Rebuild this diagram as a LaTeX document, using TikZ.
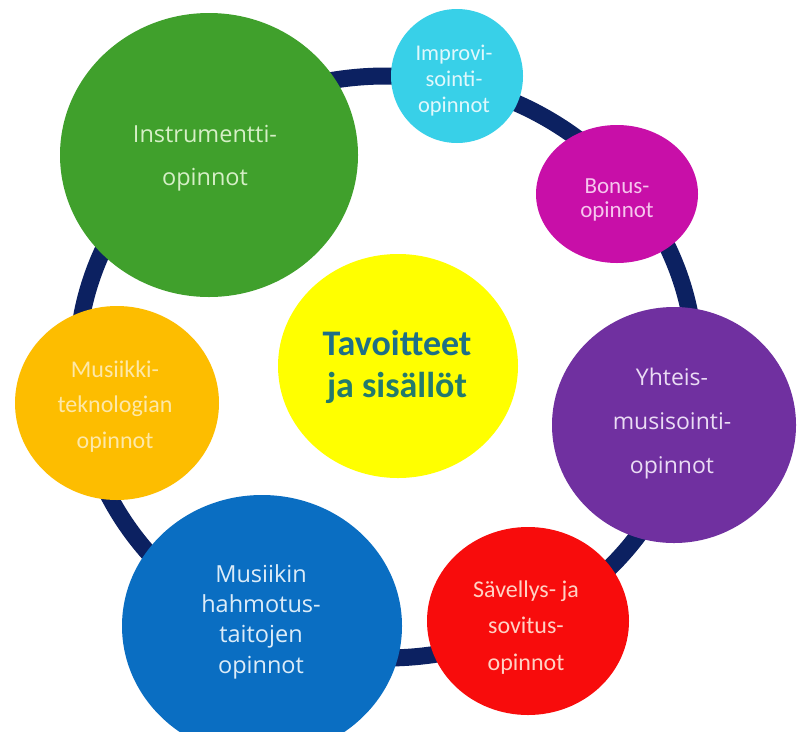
\documentclass[tikz,border=0pt]{standalone}
\usepackage{fontspec}
\usetikzlibrary{shapes.geometric}
\newfontfamily\calib{Carlito}
\newfontfamily\opens{Open Sans}
\definecolor{ringc}{HTML}{0C2161}
\definecolor{cgreen}{HTML}{40A02C}
\definecolor{ccyan}{HTML}{38D0E8}
\definecolor{cmag}{HTML}{C80FA8}
\definecolor{cpurp}{HTML}{7030A0}
\definecolor{cred}{HTML}{F80C0C}
\definecolor{cblue}{HTML}{0A6EC2}
\definecolor{corange}{HTML}{FDBD00}
\definecolor{cyell}{HTML}{FFFF00}
\definecolor{tgreen}{HTML}{D5EFC6}
\definecolor{tcyan}{HTML}{E0F8FC}
\definecolor{tmag}{HTML}{F6C6EE}
\definecolor{tpurp}{HTML}{EADCF4}
\definecolor{tred}{HTML}{FFD2C4}
\definecolor{tblue}{HTML}{DCECF8}
\definecolor{torange}{HTML}{FDE8A8}
\definecolor{tcenter}{HTML}{1E6F87}
\definecolor{tcenterb}{HTML}{237A6C}
\tikzset{
  blob/.style={ellipse, inner sep=0pt, outer sep=0pt},
  lbl/.style={anchor=base, align=center, inner sep=0pt}
}
\begin{document}
\begin{tikzpicture}[x=1pt,y=-1pt]
\useasboundingbox (0,0) rectangle (799,731);
\clip (0,0) rectangle (799,731);
\fill[white] (0,0) rectangle (799,731);
% ring
\node[blob, draw=ringc, line width=17pt, minimum width=618pt, minimum height=582pt] (ring) at (386,367) {};
% circles
\node[blob, fill=cgreen, minimum width=298pt, minimum height=284pt] (instr) at (209,155) {};
\node[blob, fill=ccyan, minimum width=132pt, minimum height=134pt] (impro) at (457,76) {};
\node[blob, fill=cmag, minimum width=162pt, minimum height=138pt] (bonus) at (617,194) {};
\node[blob, fill=cpurp, minimum width=244pt, minimum height=236pt] (yht) at (674,425) {};
\node[blob, fill=cred, minimum width=202pt, minimum height=188pt] (sav) at (528,621) {};
\node[blob, fill=cblue, minimum width=280pt, minimum height=262pt] (hahm) at (262,626) {};
\node[blob, fill=corange, minimum width=204pt, minimum height=194pt] (tekn) at (117,403) {};
\node[blob, fill=cyell, minimum width=240pt, minimum height=224pt] (tav) at (398,366) {};
% texts (base anchor = baseline of the last line)
\node[lbl, text=tgreen, font=\opens\fontsize{23.5}{43}\selectfont] (tinstr) at (205,185) {Instrumentti-\\opinnot};
\node[lbl, text=tcyan, font=\calib\fontsize{22.5}{26}\selectfont] (timpro) at (454,112) {Improvi-\\sointi-\\opinnot};
\node[lbl, text=tmag, font=\calib\fontsize{23}{24}\selectfont] (tbonus) at (617,217) {Bonus-\\opinnot};
\node[lbl, text=tpurp, font=\opens\fontsize{23}{44}\selectfont] (tyht) at (672,473) {Yhteis-\\musisointi-\\opinnot};
\node[lbl, text=tred, font=\calib\fontsize{24}{36.5}\selectfont] (tsav) at (526,670) {Sävellys- ja\\sovitus-\\opinnot};
\node[lbl, text=tblue, font=\opens\fontsize{23.5}{30.3}\selectfont] (thahm) at (261,673) {Musiikin\\hahmotus-\\taitojen\\opinnot};
\node[lbl, text=torange, font=\calib\fontsize{24}{35.5}\selectfont] (ttekn) at (115,448) {Musiikki-\\teknologian\\opinnot};
\node[lbl, font=\calib\bfseries\fontsize{36}{42}\selectfont] (ttav) at (397,397) {\textcolor{tcenter}{Tavoitteet}\\\textcolor{tcenterb}{ja sisällöt}};
\end{tikzpicture}
\end{document}
